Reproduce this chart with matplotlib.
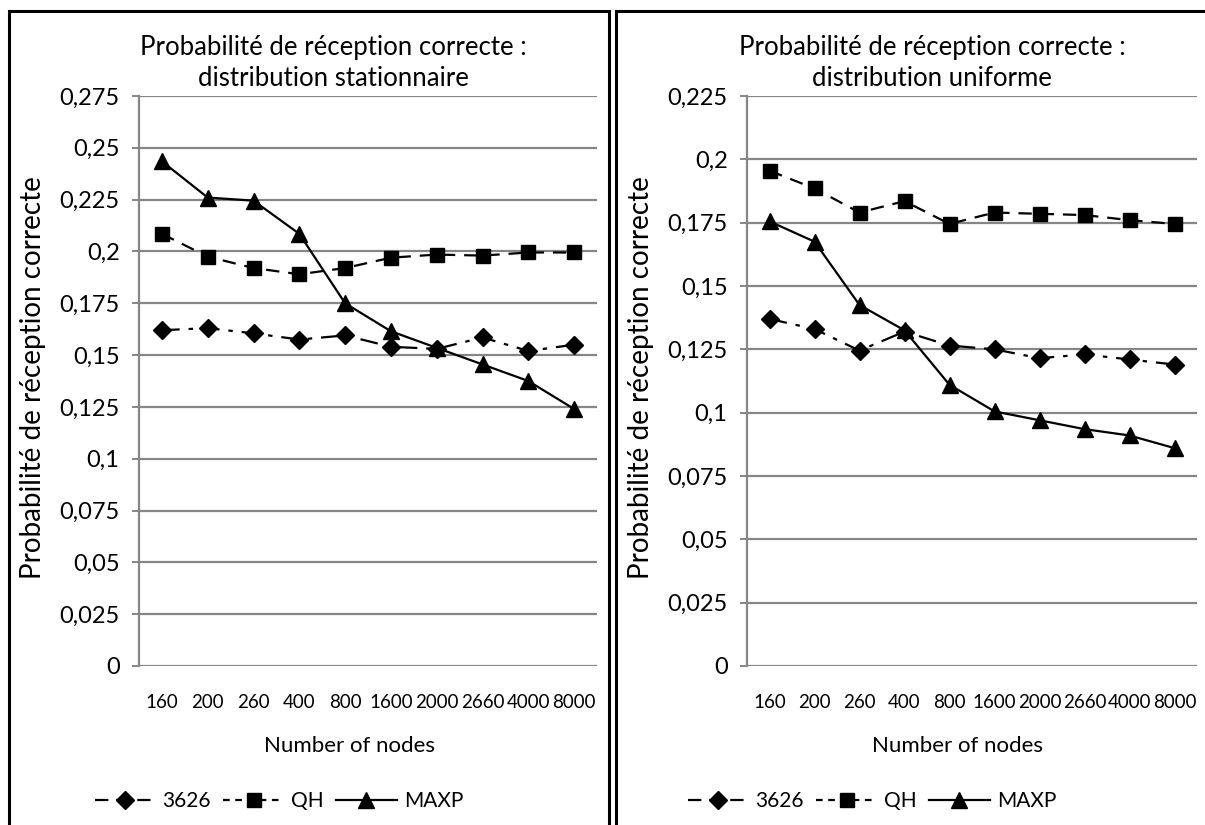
import matplotlib
matplotlib.use("Agg")
import matplotlib.pyplot as plt
from matplotlib.patches import Rectangle
from matplotlib.lines import Line2D

plt.rcParams["font.family"] = ["Lato", "DejaVu Sans"]

nodes = ["160", "200", "260", "400", "800", "1600", "2000", "2660", "4000", "8000"]

# stationary distribution
stat_3626 = [0.162, 0.163, 0.1605, 0.1575, 0.1595, 0.154, 0.153, 0.1585, 0.152, 0.155]
stat_qh = [0.2085, 0.1975, 0.192, 0.189, 0.192, 0.197, 0.1985, 0.198, 0.1995, 0.1995]
stat_maxp = [0.2435, 0.226, 0.2245, 0.2085, 0.175, 0.1615, 0.1535, 0.1455, 0.1375, 0.124]

# uniform distribution
unif_3626 = [0.137, 0.133, 0.1245, 0.132, 0.1265, 0.125, 0.1215, 0.123, 0.121, 0.119]
unif_qh = [0.1955, 0.1885, 0.179, 0.1835, 0.1745, 0.179, 0.1785, 0.178, 0.176, 0.1745]
unif_maxp = [0.1755, 0.1675, 0.1425, 0.1325, 0.111, 0.1005, 0.097, 0.0935, 0.091, 0.086]

W, H = 1205, 825
GRID = "#868686"

styles = {
    "3626": dict(linestyle=(0, (8, 4, 2, 4)), marker="D", markersize=9),
    "QH": dict(linestyle=(0, (6, 4)), marker="s", markersize=10),
    "MAXP": dict(linestyle="-", marker="^", markersize=11),
}
# legend swatches as drawn by the original spreadsheet
legend_dash = {"3626": (0, (6, 3.5)), "QH": (0, (3, 2.5)), "MAXP": "-"}


def fx(px):
    return px / W


def fy(py):
    return 1 - py / H


def draw_panel(fig, left_px, right_px, series, ymax, title2, title_x, xlabel_x):
    ax = fig.add_axes([fx(left_px), fy(666), fx(right_px - left_px), (666 - 96) / H])
    x = range(len(nodes))
    for name, values in series:
        ax.plot(x, values, color="black", linewidth=1.6, label=name, **styles[name])
    ax.set_xlim(-0.5, len(nodes) - 0.5)
    ax.set_ylim(0, ymax)
    ticks = [i * 0.025 for i in range(int(round(ymax / 0.025)) + 1)]
    ax.set_yticks(ticks)
    ax.set_yticklabels([("%.3f" % t).rstrip("0").rstrip(".").replace(".", ",") for t in ticks])
    ax.set_xticks(list(x))
    ax.set_xticklabels(nodes)
    ax.yaxis.grid(True, color=GRID, linewidth=1.6)
    ax.set_axisbelow(True)
    for s in ("top", "right", "bottom"):
        ax.spines[s].set_visible(False)
    ax.spines["left"].set_color(GRID)
    ax.spines["left"].set_linewidth(1.6)
    ax.tick_params(axis="y", direction="out", length=5, width=1.4, color=GRID,
                   labelsize=17, pad=9)
    ax.tick_params(axis="x", length=0, labelsize=13.5, pad=20)
    fig.text(fx(title_x), fy(47), "Probabilité de réception correcte :",
             ha="center", va="center", fontsize=18.5)
    fig.text(fx(title_x), fy(78), title2, ha="center", va="center", fontsize=18.5)
    fig.text(fx(left_px - 106), fy(378), "Probabilité de réception correcte",
             rotation=90, ha="center", va="center", fontsize=20)
    fig.text(fx(xlabel_x), fy(746), "Number of nodes", ha="center", va="center",
             fontsize=16)
    return ax


fig = plt.figure(figsize=(W / 100, H / 100), dpi=100)

draw_panel(fig, 139, 597,
           [("3626", stat_3626), ("QH", stat_qh), ("MAXP", stat_maxp)],
           0.275, "distribution stationnaire", 333, 350)
draw_panel(fig, 747, 1197,
           [("3626", unif_3626), ("QH", unif_qh), ("MAXP", unif_maxp)],
           0.225, "distribution uniforme", 932, 957)

names = ["3626", "QH", "MAXP"]
handles = [
    Line2D([], [], color="black", linewidth=1.6, linestyle=legend_dash[n],
           marker=styles[n]["marker"], markersize=styles[n]["markersize"])
    for n in names
]
for cx in (279, 872):
    fig.legend(handles, names, loc="center",
               bbox_to_anchor=(fx(cx), fy(801)), ncol=3, frameon=False,
               handlelength=2.9, columnspacing=0.6, handletextpad=0.35, fontsize=15)

# panel frames
fig.add_artist(Rectangle((fx(9), fy(840)), fx(600), (840 - 11) / H, fill=False,
                         edgecolor="black", linewidth=2.2, transform=fig.transFigure))
fig.add_artist(Rectangle((fx(616), fy(840)), fx(620), (840 - 11) / H, fill=False,
                         edgecolor="black", linewidth=2.2, transform=fig.transFigure))

fig.savefig("out.png", dpi=100)
